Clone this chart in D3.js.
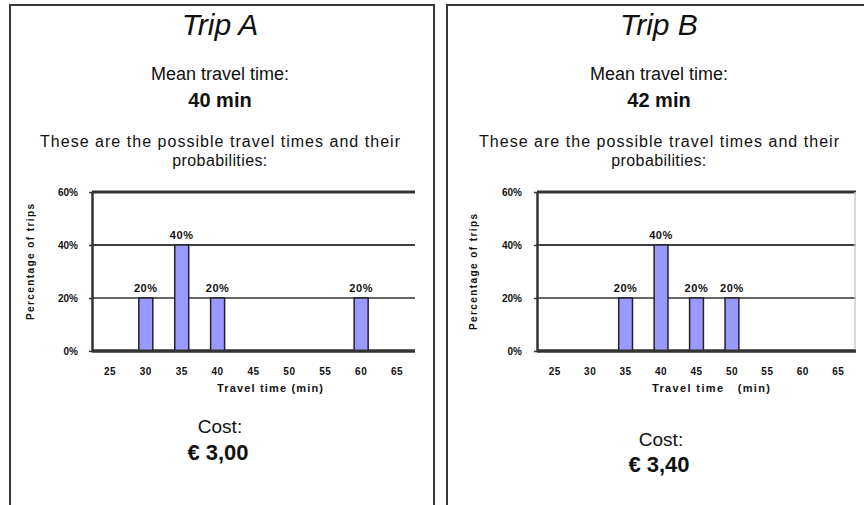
<!DOCTYPE html>
<html>
<head>
<meta charset="utf-8">
<script src="https://cdn.jsdelivr.net/npm/d3@7"></script>
<style>
  body { margin: 0; background: #fff; }
  svg { display: block; font-family: "Liberation Sans", Arial, sans-serif; }
</style>
</head>
<body>
<svg id="chart" width="864" height="505"></svg>
<script>
// categories and values
const timeCategories = ['25', '30', '35', '40', '45', '50', '55', '60', '65'];
const yTicks = [0, 0.2, 0.4, 0.6];

const tripATimes = ['30', '35', '40', '60'];
const tripAShares = [0.2, 0.4, 0.2, 0.2];
const tripBTimes = ['35', '40', '45', '50'];
const tripBShares = [0.2, 0.4, 0.2, 0.2];

const tripTitles = ['Trip A', 'Trip B'];
const meanTimes = ['40 min', '42 min'];
const costs = ['€ 3,00', '€ 3,40'];

const svg = d3.select('#chart');

// panel layouts
const panels = [
  { box: [10, 5, 424, 520], cx: 220, plot: { left: 92, right: 415, top: 192, bottom: 351 },
    yTitle: [30, 262], xTitle: [270, 392], xTitleText: 'Travel time (min)',
    costX: 220, costY: 433, costGap: 27, times: tripATimes, shares: tripAShares },
  { box: [447, 5, 430, 520], cx: 659, plot: { left: 537, right: 856, top: 192, bottom: 351 },
    yTitle: [473, 272], xTitle: [711, 392], xTitleText: 'Travel time   (min)',
    costX: 661, costY: 446, costGap: 26, times: tripBTimes, shares: tripBShares }
];

// gridline looks per tick
const gridStyle = {
  0: { w: 3, c: '#333' },
  0.2: { w: 2, c: '#666' },
  0.4: { w: 1.3, c: '#000' },
  0.6: { w: 3, c: '#333' }
};

panels.forEach((p, i) => {
  const g = svg.append('g');

  // panel frame
  g.append('rect')
    .attr('x', p.box[0]).attr('y', p.box[1])
    .attr('width', p.box[2]).attr('height', p.box[3])
    .attr('fill', 'none').attr('stroke', '#383838').attr('stroke-width', 2);

  // header texts
  g.append('text').attr('x', p.cx).attr('y', 35)
    .attr('text-anchor', 'middle').attr('font-style', 'italic')
    .attr('font-size', 30).attr('fill', '#111').text(tripTitles[i]);
  g.append('text').attr('x', p.cx).attr('y', 80)
    .attr('text-anchor', 'middle').attr('font-size', 18).attr('fill', '#111')
    .text('Mean travel time:');
  g.append('text').attr('x', p.cx).attr('y', 107)
    .attr('text-anchor', 'middle').attr('font-size', 20).attr('font-weight', 'bold')
    .attr('fill', '#111').text(meanTimes[i]);
  g.append('text').attr('x', p.cx).attr('y', 147)
    .attr('text-anchor', 'middle').attr('font-size', 16).attr('fill', '#111')
    .attr('textLength', 360).attr('lengthAdjust', 'spacing')
    .text('These are the possible travel times and their');
  g.append('text').attr('x', p.cx).attr('y', 166)
    .attr('text-anchor', 'middle').attr('font-size', 16).attr('fill', '#111')
    .attr('letter-spacing', 0.4)
    .text('probabilities:');

  // scales
  const x = d3.scaleBand()
    .domain(timeCategories)
    .range([p.plot.left, p.plot.right])
    .padding(0);
  const y = d3.scaleLinear()
    .domain([0, 0.6])
    .range([p.plot.bottom, p.plot.top]);

  // gridlines
  g.selectAll('.grid')
    .data(yTicks)
    .enter()
    .append('line')
    .attr('x1', p.plot.left).attr('x2', p.plot.right)
    .attr('y1', d => y(d)).attr('y2', d => y(d))
    .attr('stroke', d => gridStyle[d].c)
    .attr('stroke-width', d => gridStyle[d].w);

  if (i === 1) {
    g.append('line')
      .attr('x1', p.plot.right - 1).attr('x2', p.plot.right - 1)
      .attr('y1', p.plot.top).attr('y2', p.plot.bottom)
      .attr('stroke', '#ccc').attr('stroke-width', 1.5);
  }

  // bars
  const barW = x.bandwidth() * 0.39;
  const bars = p.times.map((t, k) => ({ t: t, v: p.shares[k] }));
  g.selectAll('.bar')
    .data(bars)
    .enter()
    .append('rect')
    .attr('x', d => x(d.t) + (x.bandwidth() - barW) / 2)
    .attr('y', d => y(d.v))
    .attr('width', barW)
    .attr('height', d => y(0) - y(d.v))
    .attr('fill', '#9999ff')
    .attr('stroke', '#222')
    .attr('stroke-width', 1.5);

  // value labels
  g.selectAll('.val')
    .data(bars)
    .enter()
    .append('text')
    .attr('x', d => x(d.t) + x.bandwidth() / 2)
    .attr('y', d => y(d.v) - 6)
    .attr('text-anchor', 'middle')
    .attr('font-size', 11).attr('font-weight', 'bold')
    .attr('letter-spacing', 0.6)
    .attr('fill', '#111')
    .text(d => d3.format('.0%')(d.v));

  // baseline over the bars
  g.append('line')
    .attr('x1', p.plot.left).attr('x2', p.plot.right)
    .attr('y1', y(0)).attr('y2', y(0))
    .attr('stroke', '#333').attr('stroke-width', 3);

  // y axis
  const yAxis = d3.axisLeft(y)
    .tickValues(yTicks)
    .tickFormat(d3.format('.0%'))
    .tickSize(3)
    .tickSizeOuter(0)
    .tickPadding(i === 0 ? 11 : 12);
  const ya = g.append('g')
    .attr('transform', `translate(${p.plot.left}, 0)`)
    .call(yAxis);
  ya.select('.domain').attr('stroke', '#333').attr('stroke-width', 2.5);
  ya.selectAll('.tick line').attr('stroke', '#333').attr('stroke-width', 1.5);
  ya.selectAll('text')
    .attr('font-size', 10).attr('font-weight', 'bold')
    .attr('font-family', '"Liberation Sans", Arial, sans-serif')
    .attr('fill', '#111');

  // x axis
  const xAxis = d3.axisBottom(x).tickSize(0).tickPadding(17);
  const xa = g.append('g')
    .attr('transform', `translate(0, ${p.plot.bottom})`)
    .call(xAxis);
  xa.select('.domain').remove();
  xa.selectAll('text')
    .attr('font-size', 10).attr('font-weight', 'bold')
    .attr('letter-spacing', 0.5)
    .attr('font-family', '"Liberation Sans", Arial, sans-serif')
    .attr('fill', '#111');

  // axis titles
  g.append('text')
    .attr('transform', `translate(${p.yTitle[0]}, ${p.yTitle[1]}) rotate(-90)`)
    .attr('text-anchor', 'middle').attr('dy', '0.35em')
    .attr('font-size', 10).attr('font-weight', 'bold')
    .attr('textLength', 116).attr('lengthAdjust', 'spacing')
    .attr('fill', '#111')
    .text('Percentage of trips');
  g.append('text')
    .attr('x', p.xTitle[0]).attr('y', p.xTitle[1])
    .attr('text-anchor', 'middle')
    .attr('font-size', 11).attr('font-weight', 'bold')
    .attr('textLength', i === 0 ? 106 : 118).attr('lengthAdjust', 'spacing')
    .style('white-space', 'pre')
    .attr('fill', '#111')
    .text(p.xTitleText);

  // cost
  g.append('text').attr('x', p.costX).attr('y', p.costY)
    .attr('text-anchor', 'middle').attr('font-size', 19).attr('fill', '#111')
    .text('Cost:');
  g.append('text').attr('x', p.costX - 2).attr('y', p.costY + p.costGap)
    .attr('text-anchor', 'middle').attr('font-size', 22).attr('font-weight', 'bold')
    .attr('fill', '#111')
    .text(costs[i]);
});
</script>
</body>
</html>
